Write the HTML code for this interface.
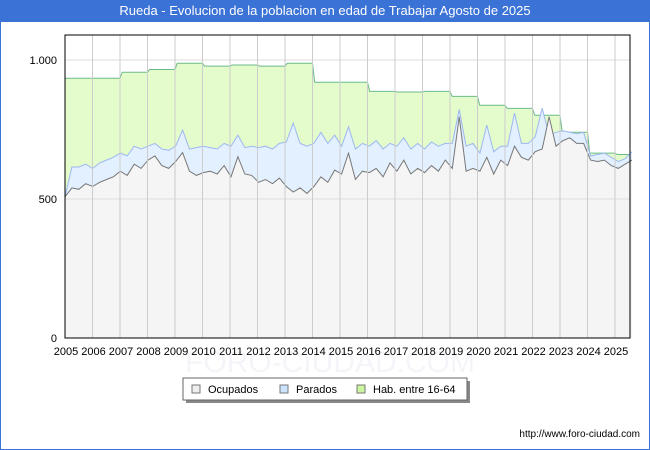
<!DOCTYPE html>
<html><head><meta charset="utf-8"><style>
body{margin:0;width:650px;height:450px;overflow:hidden;background:#fff;font-family:"Liberation Sans","DejaVu Sans",sans-serif}
#frame{position:absolute;left:0;top:0;width:648px;height:448px;border:1px solid #3a72d6}
#title{position:absolute;left:0;top:0;width:650px;height:22px;background:#3a72d6;color:#fff;font-size:13px;line-height:22px;text-align:center}
</style></head><body>
<div id="frame"></div>
<div id="title">Rueda - Evolucion de la poblacion en edad de Trabajar Agosto de 2025</div>
<svg id="chart" width="650" height="450" style="position:absolute;left:0;top:0"></svg>
<script>
const years=[2005,2006,2007,2008,2009,2010,2011,2012,2013,2014,2015,2016,2017,2018,2019,2020,2021,2022,2023,2024,2025];
const hab=[934,934,956,966,988,978,982,978,988,920,920,887,885,887,869,837,826,801,740,665,660];
const ocupados=[508,540,535,555,545,560,570,580,600,585,625,610,640,655,620,610,635,667,600,585,595,600,590,620,580,652,590,585,560,570,555,575,545,525,540,520,545,580,560,604,590,665,570,600,595,610,580,630,600,640,590,610,595,620,600,640,610,796,600,610,600,650,590,640,620,690,650,640,670,680,796,690,710,720,700,700,640,635,640,620,610,625,640];
const parados=[508,615,615,625,610,630,640,650,665,655,690,680,690,700,680,675,690,748,680,685,690,685,680,700,690,730,685,690,685,690,680,700,705,773,700,690,700,740,700,730,690,760,680,700,690,710,680,700,690,720,680,700,680,705,690,700,700,822,690,700,665,766,670,690,690,809,700,700,724,827,730,740,745,740,735,740,655,660,665,650,635,645,670];
const yTicks=[0,500,1000];
const yTickLabels=["0","500","1.000"];
const legendLabels=["Ocupados","Parados","Hab. entre 16-64"];

const NS="http://www.w3.org/2000/svg",svg=document.getElementById('chart');
const L=65,R=630,T=35,B=338,END=20.62;
const X=t=>L+(t-2005)*27.5;
const Y=v=>B-v*0.278;
function el(tag,attrs,parent){const e=document.createElementNS(NS,tag);for(const k in attrs)e.setAttribute(k,attrs[k]);(parent||svg).appendChild(e);return e;}

el('rect',{x:L,y:T,width:R-L,height:B-T,fill:'#fff'});
// watermark
const w=el('text',{x:330,y:372,'text-anchor':'middle','font-size':30,fill:'#f5f5f9'});w.textContent='FORO-CIUDAD.COM';


const habPts=[];
hab.forEach((v,i)=>{const t0=years[i];habPts.push([X(t0+(i?0.08:0)),Y(v)]);habPts.push([X(Math.min(t0+1,2005+END)),Y(v)]);});
const qPts=arr=>arr.map((v,i)=>[X(2005+i*END/(arr.length-1)),Y(v)]);
const ocPts=qPts(ocupados),paPts=qPts(parados);
const area=(pts,fill,stroke,name)=>{
 const d='M'+pts.map(p=>p[0].toFixed(1)+','+p[1].toFixed(1)).join('L');
 const a=el('path',{d:d+'L'+pts[pts.length-1][0]+','+B+'L'+pts[0][0]+','+B+'Z',fill:fill});
 
 
 const l=el('path',{d:d,fill:'none',stroke:stroke,'stroke-width':1});
 
 
};
area(habPts,'#e4fbcc','#6dbb8a','hab');
area(paPts,'#e2f0ff','#9db8f0','parados');
area(ocPts,'#f5f5f5','#777','ocupados');
yTicks.forEach((v,i)=>{
 if(v>0){const g=el('line',{x1:L,x2:R,y1:Y(v),y2:Y(v),stroke:'#ddd'});}
 const t=el('text',{x:57,y:Y(v)+4,'text-anchor':'end','font-size':11,fill:'#000'});t.textContent=yTickLabels[i];
 
 
});
years.forEach(yr=>{
 if(yr>2005){const g=el('line',{x1:X(yr),x2:X(yr),y1:T,y2:B,stroke:'#ccc'});}
 const t=el('text',{x:X(yr)+1,y:355,'text-anchor':'middle','font-size':11,fill:'#000'});t.textContent=yr;
 
 
});
el('rect',{x:L,y:T,width:R-L,height:B-T,fill:'none',stroke:'#000'});
el('rect',{x:186,y:381,width:284,height:22,fill:'#888'});
const lg=el('rect',{x:183,y:378,width:284,height:22,fill:'#fff',stroke:'#666'});


const sw=[['#eee','#777',192],['#cce4ff','#777',280],['#ccf5a0','#777',357]];
const tx=[208,296,373];
legendLabels.forEach((s,i)=>{
 el('rect',{x:sw[i][2],y:385,width:8,height:8,fill:sw[i][0],stroke:sw[i][1]});
 const t=el('text',{x:tx[i],y:393,'font-size':11,fill:'#000'});t.textContent=s;
 
 
});
const f=el('text',{x:640,y:437,'text-anchor':'end','font-size':10,fill:'#000'});f.textContent='http://www.foro-ciudad.com';


</script>
</body></html>
